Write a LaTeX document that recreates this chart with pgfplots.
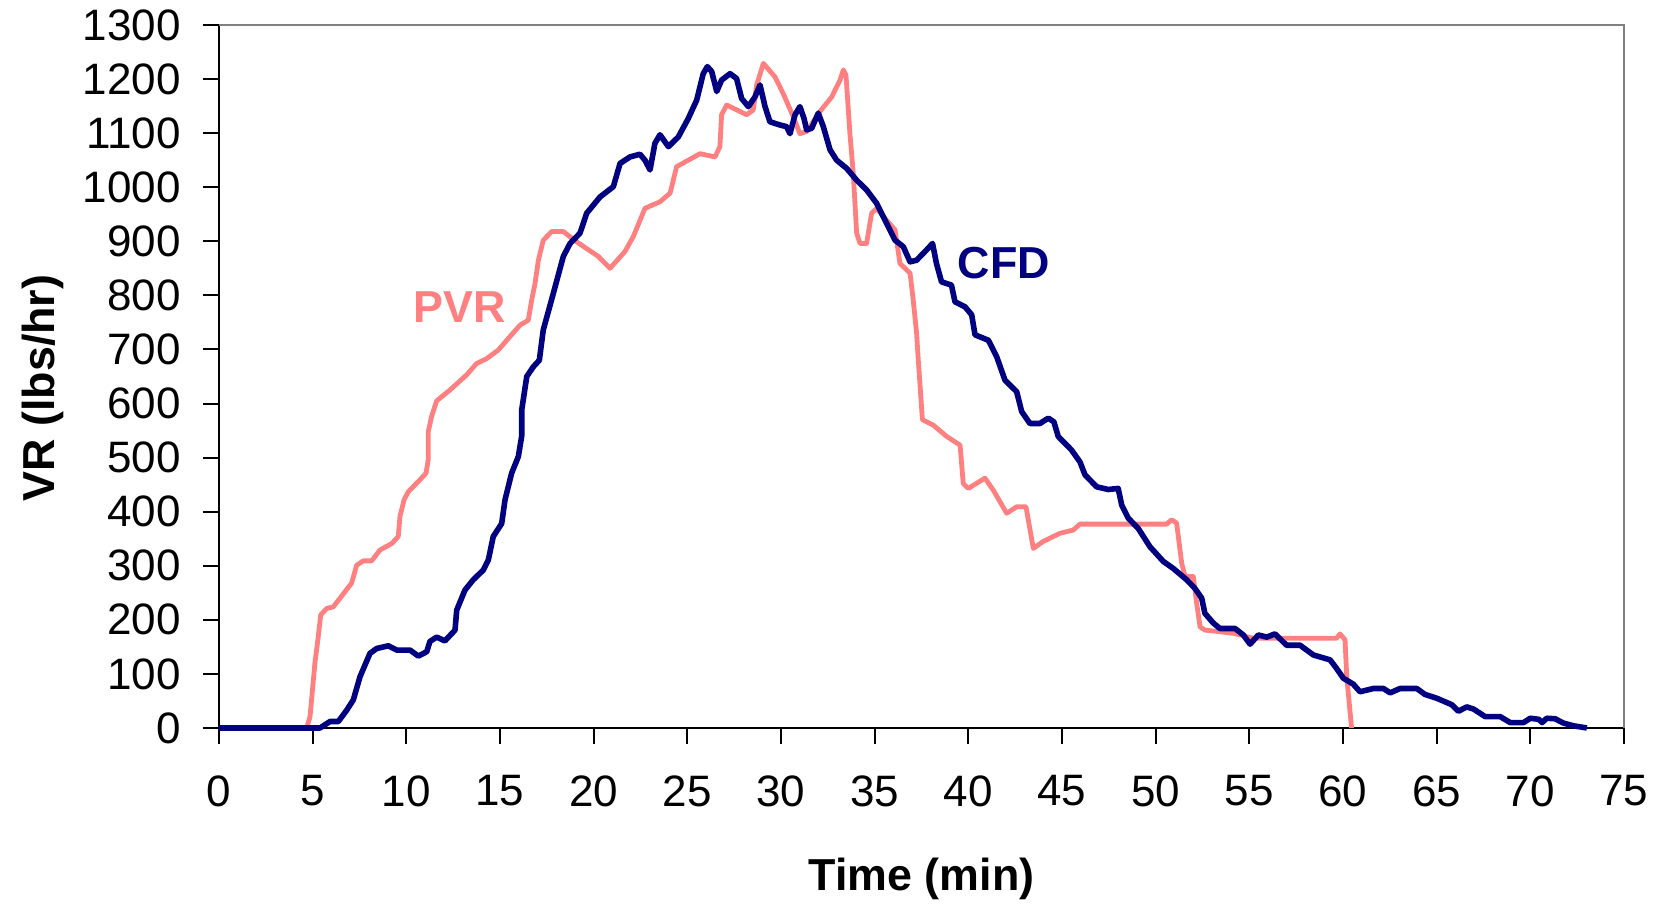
\documentclass[border=0pt]{standalone}
\usepackage{fontspec}
\setmainfont{Liberation Sans}
\usepackage{pgfplots}
\pgfplotsset{compat=1.18}
\definecolor{pvr}{HTML}{FF8080}
\definecolor{cfd}{HTML}{000080}
\definecolor{frame}{HTML}{808080}

\begin{document}
\begin{tikzpicture}
\useasboundingbox (-54.75pt,-44.25pt) rectangle (360.5pt,182pt);
\begin{axis}[
  at={(0,0)}, anchor=south west,
  scale only axis, width=351.25pt, height=175.75pt,
  xmin=0, xmax=75, ymin=0, ymax=1300,
  xtick={0,5,...,75}, ytick={0,100,...,1300},
  axis x line*=bottom, axis y line*=left,
  axis line style={black, line width=0.6pt, -},
  tick align=outside, major tick length=4pt,
  tick style={black, line width=0.5pt},
  /pgf/number format/assume math mode=true,
  /pgf/number format/1000 sep={},
  tick label style={font=\fontsize{11}{12}\selectfont},
  xticklabel style={yshift=-4.4pt},
  yticklabel style={xshift=-2pt},
  xlabel={\textbf{Time (min)}}, ylabel={\textbf{VR (lbs/hr)}},
  label style={font=\fontsize{11.2}{13}\selectfont},
  xlabel style={at={(axis description cs:0.5,-0.214)}, anchor=center},
  ylabel style={at={(axis description cs:-0.1254,0.4836)}, anchor=center},
  clip=false,
]
\draw[frame, line width=0.7pt] (rel axis cs:0,1) -- (rel axis cs:1,1) -- (rel axis cs:1,0);

% PVR
\addplot[pvr, line width=1.2pt, line join=round] coordinates {
(0,0)(4.68,0)(4.86,21)(5.12,120)(5.30,169)(5.43,209)(5.75,221)(6.10,224)(6.46,240)(7.08,268)(7.35,301)(7.70,309)(8.15,309)(8.59,329)(9.22,341)(9.57,354)(9.66,391)(9.88,422)(10.11,437)(10.73,459)(11.05,471)(11.17,496)(11.17,548)(11.35,576)(11.62,605)(12.33,625)(13.22,653)(13.75,674)(14.29,683)(14.91,699)(16.07,745)(16.51,754)(16.69,791)(16.87,822)(17.05,865)(17.31,902)(17.76,918)(18.38,918)(19.09,899)(20.25,872)(20.87,850)(21.67,881)(22.12,909)(22.74,961)(23.54,973)(24.08,989)(24.43,1038)(25.68,1062)(26.48,1056)(26.74,1075)(26.83,1134)(27.10,1152)(28.17,1134)(28.52,1143)(28.70,1189)(29.06,1229)(29.68,1204)(30.12,1173)(30.66,1130)(31.01,1099)(31.37,1103)(32.08,1140)(32.71,1167)(33.15,1198)(33.33,1217)(33.47,1207)(33.68,1099)(33.86,1025)(34.04,915)(34.22,896)(34.57,896)(34.84,952)(35.11,961)(35.46,946)(36.09,921)(36.35,859)(36.89,841)(37.06,791)(37.24,730)(37.33,680)(37.45,620)(37.55,570)(38.13,560)(38.85,539)(39.56,523)(39.73,452)(40.00,443)(40.89,462)(41.33,440)(42.05,397)(42.58,409)(43.08,409)(43.47,332)(44.00,345)(44.89,360)(45.60,366)(45.96,377)(50.59,377)(50.85,385)(51.12,379)(51.39,305)(51.57,280)(52.01,280)(52.19,231)(52.37,187)(52.63,181)(53.43,178)(54.15,175)(55.21,166)(59.66,166)(59.84,174)(60.11,163)(60.20,95)(60.37,33)(60.46,0)
};

% CFD
\addplot[cfd, line width=1.4pt, line join=round] coordinates {
(0,0)(5.39,0)(5.93,12)(6.37,12)(6.82,33)(7.17,52)(7.53,95)(8.06,138)(8.42,147)(9.04,152)(9.49,144)(10.20,144)(10.64,133)(11.09,141)(11.26,160)(11.62,168)(12.06,161)(12.60,181)(12.69,218)(13.13,255)(13.57,274)(14.11,292)(14.38,311)(14.64,354)(15.09,378)(15.27,422)(15.62,471)(15.98,502)(16.16,540)(16.16,588)(16.43,650)(16.78,668)(17.10,680)(17.31,736)(17.85,804)(18.38,872)(18.74,896)(19.27,915)(19.63,952)(20.34,982)(21.05,1001)(21.41,1044)(21.94,1056)(22.47,1061)(22.74,1050)(23.01,1032)(23.27,1081)(23.54,1097)(23.99,1075)(24.52,1093)(25.05,1127)(25.50,1161)(25.85,1210)(26.07,1223)(26.30,1214)(26.57,1177)(26.83,1198)(27.28,1210)(27.63,1201)(27.90,1164)(28.26,1149)(28.61,1167)(28.88,1189)(29.15,1149)(29.41,1121)(29.95,1115)(30.30,1112)(30.48,1099)(30.75,1134)(31.01,1149)(31.23,1127)(31.37,1106)(31.64,1109)(31.99,1137)(32.26,1112)(32.62,1069)(32.97,1050)(33.50,1035)(34.04,1013)(34.57,995)(35.11,970)(35.64,933)(36.09,902)(36.53,890)(36.89,862)(37.24,865)(37.77,884)(38.09,896)(38.30,859)(38.57,825)(39.10,819)(39.29,788)(39.82,779)(40.18,764)(40.36,727)(41.07,717)(41.51,687)(41.96,643)(42.58,622)(42.85,585)(43.29,563)(43.82,563)(44.27,573)(44.57,566)(44.80,539)(45.51,514)(45.96,492)(46.23,468)(46.85,446)(47.47,441)(48.00,443)(48.19,412)(48.54,388)(49.07,369)(49.70,335)(50.41,308)(50.94,295)(51.66,274)(52.10,258)(52.46,240)(52.63,212)(53.08,194)(53.43,184)(54.24,184)(54.68,172)(55.04,155)(55.48,172)(55.93,168)(56.37,174)(56.99,153)(57.71,153)(58.42,135)(59.31,126)(59.66,110)(60.02,92)(60.55,81)(60.91,67)(61.62,73)(62.16,73)(62.52,65)(63.05,73)(63.94,73)(64.38,62)(65.01,55)(65.81,43)(66.16,31)(66.61,39)(66.97,35)(67.59,21)(68.39,21)(68.93,10)(69.64,10)(70.00,18)(70.45,16)(70.63,10)(70.88,18)(71.33,17)(71.77,9)(72.31,4)(73.02,0)
};

\node[pvr, anchor=west, inner sep=0pt, font=\fontsize{11.2}{13}\selectfont\bfseries] at (axis cs:10.36,778) {PVR};
\node[cfd, anchor=west, inner sep=0pt, font=\fontsize{11.2}{13}\selectfont\bfseries] at (axis cs:39.4,860) {CFD};
\end{axis}
\end{tikzpicture}
\end{document}
